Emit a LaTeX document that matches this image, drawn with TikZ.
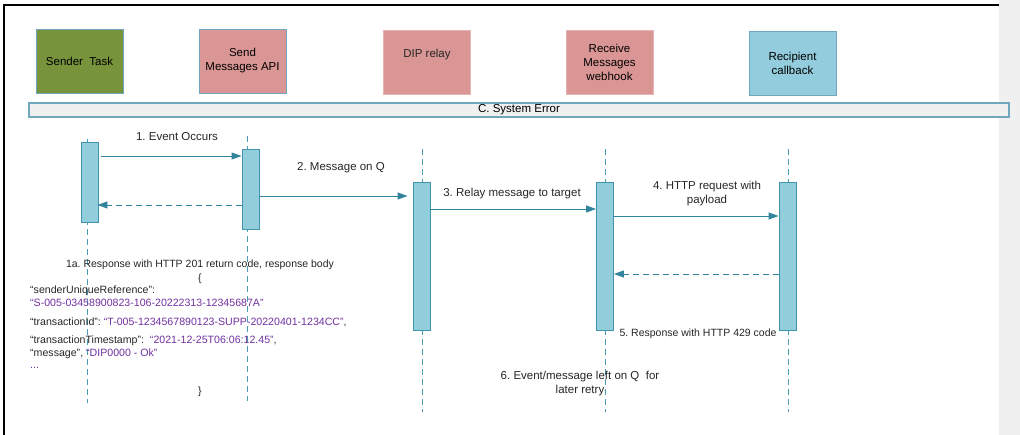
\documentclass[tikz,border=0pt]{standalone}
\usepackage{fontspec}
\setmainfont{Liberation Sans}
\usetikzlibrary{arrows.meta,calc}
\frenchspacing
\definecolor{sgreen}{HTML}{77933C}
\definecolor{spink}{HTML}{D99694}
\definecolor{sblue}{HTML}{93CDDD}
\definecolor{hborder}{HTML}{6FA8BC}
\definecolor{tealline}{HTML}{31849B}
\definecolor{lifecol}{HTML}{4A9DB5}
\definecolor{barfill}{HTML}{92CDDC}
\definecolor{barbord}{HTML}{4293AD}
\definecolor{jpurple}{HTML}{7030A0}
\definecolor{stripgray}{HTML}{F0F0F0}
\begin{document}
\begin{tikzpicture}[x=1pt,y=-1pt,
  head/.style={draw=hborder, line width=0.8pt, minimum width=87pt, minimum height=64pt, inner sep=0pt, align=center, font=\fontsize{11.5}{14}\selectfont},
  lbl/.style={align=center, inner sep=0pt, font=\fontsize{11.5}{14}\selectfont, text=black!85},
  slbl/.style={align=center, inner sep=0pt, font=\fontsize{10.5}{13}\selectfont, text=black!85},
  json/.style={anchor=west, inner sep=0pt, font=\fontsize{10.6}{12}\selectfont, text=black!85},
  actbar/.style={draw=barbord, fill=barfill, line width=0.9pt, minimum width=17pt, inner sep=0pt},
  life/.style={draw=lifecol, line width=0.9pt, dash pattern=on 6pt off 4pt},
  msg/.style={draw=tealline, line width=0.9pt, -{Triangle[length=10pt,width=7pt]}},
  ret/.style={msg, dash pattern=on 6pt off 4pt}
]
\useasboundingbox (0,0) rectangle (1020,435);
% gray strip and frame
\fill[stripgray] (999,0) rectangle (1020,435);
\draw[black, line width=1.4pt] (4,435) -- (4,5) -- (999,5);

% heads
\node[head, fill=sgreen] (h1) at (79.5,61) {Sender\ \ Task};
\node[head, fill=spink] (h2) at (242.5,61) {Send\\Messages API};
\node[head, fill=spink, draw=spink!70!white] (h3) at (427,62.5) {};
\node[lbl] (h3t) at (427,55) {DIP relay};
\node[head, fill=spink, draw=spink!70!white] (h4) at (609.5,62.5) {Receive\\Messages\\webhook};
\node[head, fill=sblue] (h5) at (792.5,63) {Recipient\\callback};

% system error bar
\node[draw=hborder, fill=stripgray, line width=1.1pt, minimum width=980pt, minimum height=14pt, inner sep=0pt, font=\fontsize{11.5}{14}\selectfont] (err) at (519,110) {C. System Error};

% lifelines
\coordinate (l1t) at (87,139);  \coordinate (l1b) at (87,403);
\coordinate (l2t) at (247,136); \coordinate (l2b) at (247,401);
\coordinate (l3t) at (422,149); \coordinate (l3b) at (422,412);
\coordinate (l4t) at (605,149); \coordinate (l4b) at (605,412);
\coordinate (l5t) at (788,149); \coordinate (l5b) at (788,412);
\foreach \i in {1,...,5} { \draw[life] (l\i t) -- (l\i b); }

% activation bars
\node[actbar, minimum height=80pt] (b1) at (89.5,182) {};
\node[actbar, minimum height=80pt] (b2) at (250.5,189) {};
\node[actbar, minimum height=148pt] (b3) at (421.5,256) {};
\node[actbar, minimum height=148pt] (b4) at (605,256) {};
\node[actbar, minimum height=148pt] (b5) at (787.5,256) {};

% message levels
\coordinate (y1) at (0,156);
\coordinate (y1r) at (0,205);
\coordinate (y2) at (0,196);
\coordinate (y3) at (0,209);
\coordinate (y4) at (0,216);
\coordinate (y5) at (0,274);

\draw[msg] ([xshift=3pt]b1.east |- y1) -- (b2.west |- y1);
\draw[ret] (b2.west |- y1r) -- ([xshift=-1pt]b1.east |- y1r);
\draw[msg] (b2.east |- y2) -- ([xshift=-5pt]b3.west |- y2);
\draw[msg] (b3.east |- y3) -- (b4.west |- y3);
\draw[msg] (b4.east |- y4) -- (b5.west |- y4);
\draw[ret] (b5.west |- y5) -- (b4.east |- y5);

% labels
\node[lbl] (t1) at (177,137) {1. Event Occurs};
\node[lbl] (t2) at (341,168) {2. Message on Q};
\node[lbl] (t3) at (512,194) {3. Relay message to target};
\node[lbl] (t4) at (707,194) {4. HTTP request with\\payload};
\node[slbl] (t5) at (698,334) {5. Response with HTTP 429 code};
\node[lbl] (t6) at (580,384) {6. Event/message left on Q\ \ for\\later retry};

% 1a response
\node[slbl] (t1a) at (200,265) {1a. Response with HTTP 201 return code, response body};
\node[slbl] (ob) at (200,279) {\{};
\node[json] (j1) at (30,291) {“senderUniqueReference”:};
\node[json] (j2) at (30,303) {\textcolor{jpurple}{“S-005-03458900823-106-20222313-12345687A”}};
\node[json] (j3) at (30,322) {“transactionId”: \textcolor{jpurple}{“T-005-1234567890123-SUPP-20220401-1234CC”},};
\node[json] (j4) at (30,341) {“transactionTimestamp”:\ \ \textcolor{jpurple}{“2021-12-25T06:06:12.45”},};
\node[json] (j5) at (30,354) {“message”, \textcolor{jpurple}{“DIP0000 - Ok”}};
\node[json] (j6) at (30,368) {\textcolor{jpurple}{...}};
\node[slbl] (cb) at (200,392) {\}};
\end{tikzpicture}
\end{document}
